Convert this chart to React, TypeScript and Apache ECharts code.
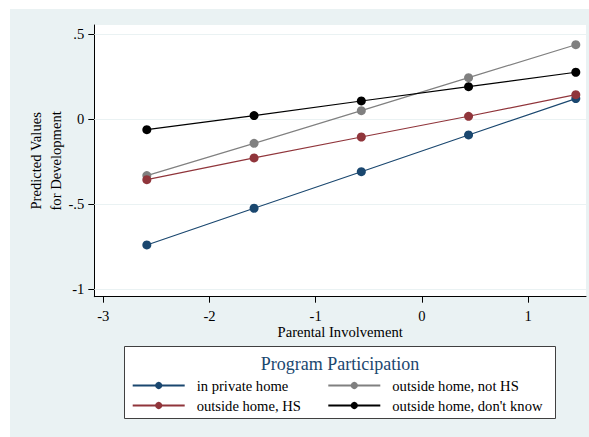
import React, { useEffect, useRef } from "react";
import * as echarts from "echarts";

const xValues = [-2.59, -1.58, -0.57, 0.44, 1.45];
const privateHome = [-0.741, -0.525, -0.31, -0.094, 0.12];
const outsideNotHS = [-0.333, -0.143, 0.049, 0.243, 0.437];
const outsideHS = [-0.357, -0.229, -0.106, 0.016, 0.143];
const outsideDontKnow = [-0.063, 0.02, 0.106, 0.19, 0.275];

const xTicks = [-3, -2, -1, 0, 1];
const yTicks = [-1, -0.5, 0, 0.5];
const yTickLabels = ["-1", "-.5", "0", ".5"];

const seriesNames = [
  "in private home",
  "outside home, not HS",
  "outside home, HS",
  "outside home, don't know",
];
const seriesColors = ["#1a476f", "#808080", "#90353b", "#000000"];
const seriesData = [privateHome, outsideNotHS, outsideHS, outsideDontKnow];

const FONT = "'Liberation Serif', 'Times New Roman', 'DejaVu Serif', serif";
const FS = 14.6;

export default function App() {
  const ref = useRef<HTMLDivElement>(null);
  useEffect(() => {
    if (!ref.current) return;
    const chart = echarts.init(ref.current, undefined, { renderer: "svg" });
    const lineSeries = seriesNames.map((name, i) => ({
      name,
      type: "line",
      z: 3,
      data: xValues.map((x, j) => [x, seriesData[i][j]]),
      symbol: "circle",
      symbolSize: 9,
      showSymbol: true,
      color: seriesColors[i],
      lineStyle: { color: seriesColors[i], width: 1.2 },
      itemStyle: { color: seriesColors[i] },
    }));
    const legendBase = {
      top: 378,
      orient: "vertical",
      padding: 0,
      itemGap: 5,
      itemWidth: 52,
      itemHeight: 9,
      textStyle: { fontFamily: FONT, fontSize: FS, color: "#000", padding: [0, 0, 0, 7] },
      z: 7,
    };
    const option: any = {
      animation: false,
      backgroundColor: "transparent",
      textStyle: { fontFamily: FONT },
      graphic: [
        {
          type: "rect",
          z: -10,
          silent: true,
          shape: { x: 10, y: 9, width: 579, height: 428 },
          style: { fill: "#EAF2F3" },
        },
        {
          type: "rect",
          z: 5,
          silent: true,
          shape: { x: 124.5, y: 346.5, width: 431, height: 72 },
          style: { fill: "#ffffff", stroke: "#404040", lineWidth: 1 },
        },
        {
          type: "text",
          z: 6,
          silent: true,
          x: 340,
          y: 364,
          style: {
            text: "Program Participation",
            fill: "#1a476f",
            font: `18px ${FONT}`,
            align: "center",
            verticalAlign: "middle",
          },
        },
      ],
      grid: {
        left: 94.3,
        top: 25,
        right: 3,
        bottom: 140.3,
        show: true,
        backgroundColor: "#ffffff",
        borderWidth: 0,
        containLabel: false,
      },
      xAxis: {
        type: "value",
        min: -3.0847,
        max: 1.546,
        name: "Parental Involvement",
        nameLocation: "middle",
        nameGap: 28,
        nameMoveOverlap: false,
        nameTextStyle: { fontFamily: FONT, fontSize: FS, color: "#000" },
        axisLine: { show: true, onZero: false, lineStyle: { color: "#000", width: 1 } },
        axisTick: { show: true, length: 6, customValues: xTicks, lineStyle: { color: "#000" } },
        axisLabel: {
          customValues: xTicks,
          margin: 12,
          fontFamily: FONT,
          fontSize: FS,
          color: "#000",
          formatter: (v: number) => String(v),
        },
        splitLine: { show: false },
      },
      yAxis: {
        type: "value",
        min: -1.0453,
        max: 0.5529,
        name: "Predicted Values\nfor Development",
        nameLocation: "middle",
        nameGap: 28,
        nameMoveOverlap: false,
        nameRotate: 90,
        nameTextStyle: { fontFamily: FONT, fontSize: FS, color: "#000", lineHeight: 20 },
        axisLine: { show: true, onZero: false, lineStyle: { color: "#000", width: 1 } },
        axisTick: { show: true, length: 6, customValues: yTicks, lineStyle: { color: "#000" } },
        axisLabel: {
          customValues: yTicks,
          margin: 10,
          fontFamily: FONT,
          fontSize: FS,
          color: "#000",
          formatter: (v: number) => {
            const idx = yTicks.findIndex((t) => Math.abs(t - v) < 1e-6);
            return idx >= 0 ? yTickLabels[idx] : "";
          },
        },
        splitLine: { show: false },
      },
      legend: [
        { ...legendBase, left: 131.7, data: [seriesNames[0], seriesNames[2]] },
        { ...legendBase, left: 327.3, data: [seriesNames[1], seriesNames[3]] },
      ],
      series: [
        {
          name: "grid",
          type: "line",
          data: [],
          z: 1,
          silent: true,
          markLine: {
            z: 1,
            silent: true,
            symbol: ["none", "none"],
            label: { show: false },
            lineStyle: { color: "#EAF2F3", width: 1, type: "solid" },
            data: yTicks.map((v) => ({ yAxis: v })),
          },
        },
        ...lineSeries,
      ],
    };
    chart.setOption(option);
    return () => chart.dispose();
  }, []);
  return (
    <div
      ref={ref}
      style={{ position: "absolute", left: 0, top: 0, width: 589, height: 437 }}
    />
  );
}
